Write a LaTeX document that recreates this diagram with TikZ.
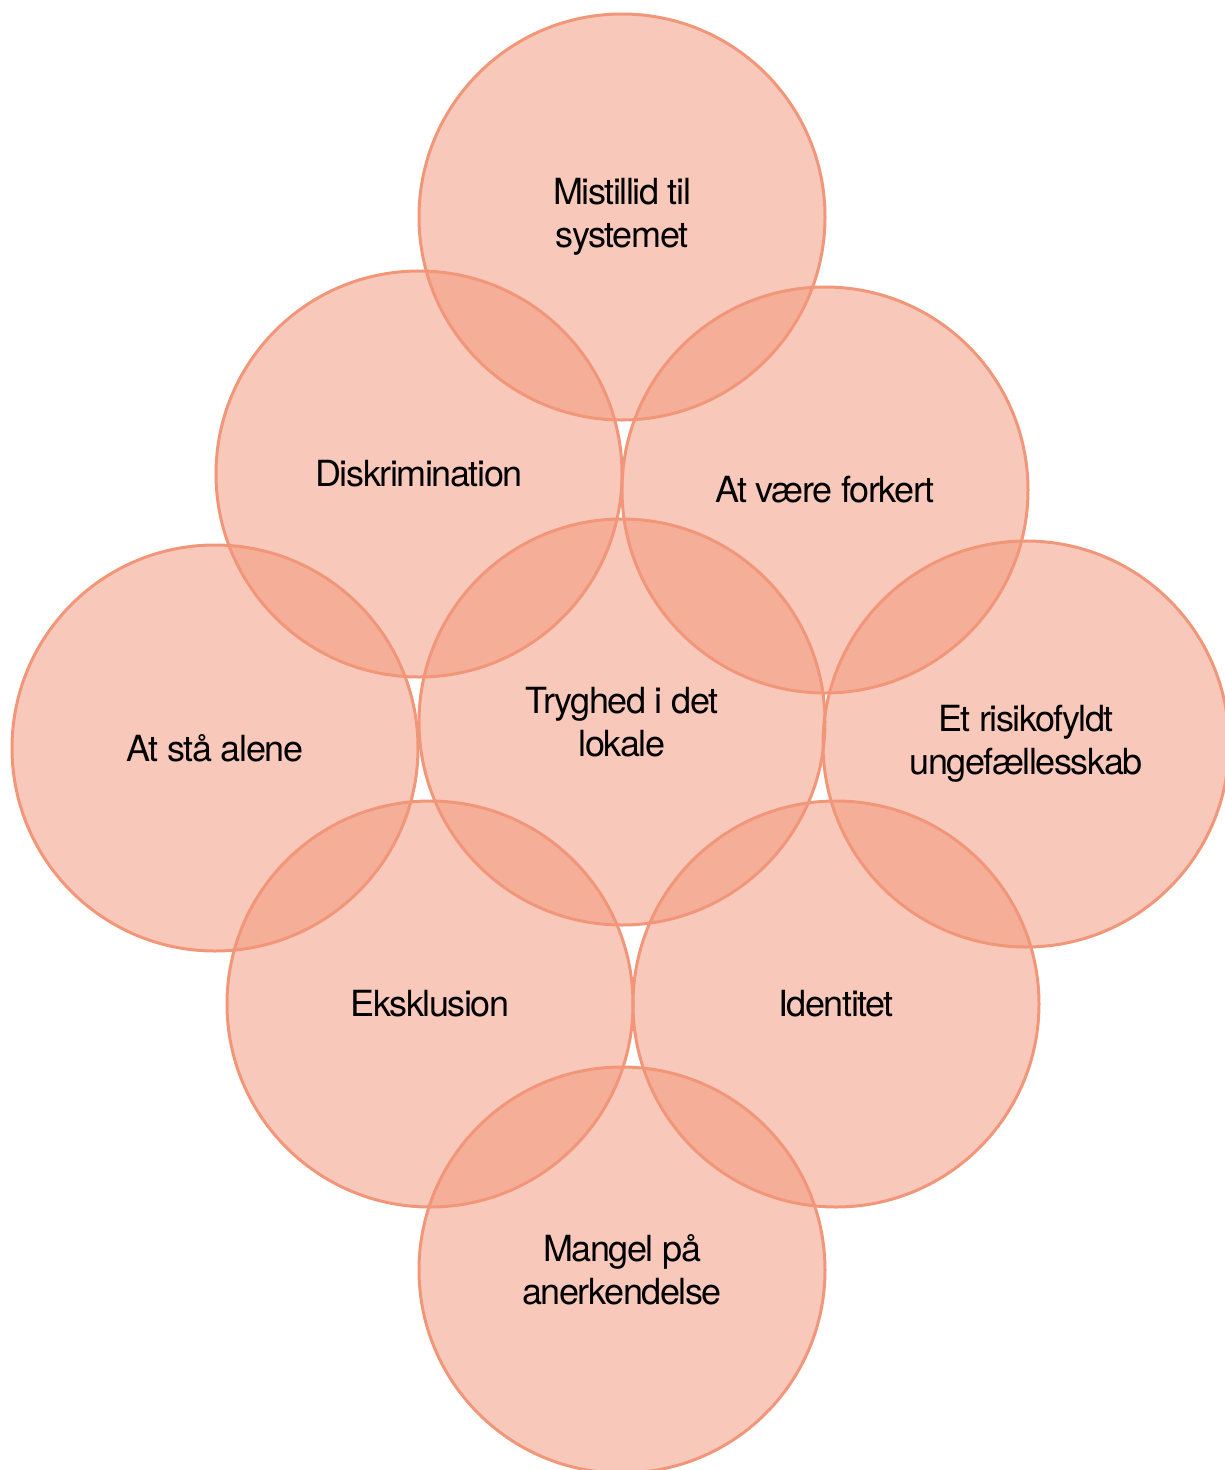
\documentclass[tikz,border=0pt]{standalone}
\usepackage{fontspec}
\setmainfont{TeX Gyre Heros}[LetterSpace=-4]
\usepackage{tikz}
\definecolor{salmon}{RGB}{242,150,122}
\tikzset{
  theme/.style={circle, draw=salmon, line width=3pt, fill=salmon,
    fill opacity=0.52, text opacity=1, minimum size=406pt,
    inner sep=0pt, align=center,
    font=\fontsize{36}{43}\selectfont}
}

\begin{document}
\begin{tikzpicture}[x=1pt,y=-1pt]
        \useasboundingbox (0,0) rectangle (1225,1470);
        \begin{scope}
        \clip (0,0) rectangle (1225,1470);
        \node[theme] (mistillid) at (622,217) {Mistillid til\\systemet};
        \node[theme] (diskrim) at (419,474) {Diskrimination};
        \node[theme] (forkert) at (825,490) {At være forkert};
        \node[theme] (tryghed) at (622,722) {Tryghed i det\\lokale};
        \node[theme] (alene) at (215,748) {At stå alene};
        \node[theme] (risiko) at (1026,744) {Et risikofyldt\\ungefællesskab};
        \node[theme] (eksklusion) at (430,1004) {Eksklusion};
        \node[theme] (identitet) at (836,1004) {Identitet};
        \node[theme] (mangel) at (622,1270) {Mangel på\\anerkendelse};
        \end{scope}
      \end{tikzpicture}
\end{document}
